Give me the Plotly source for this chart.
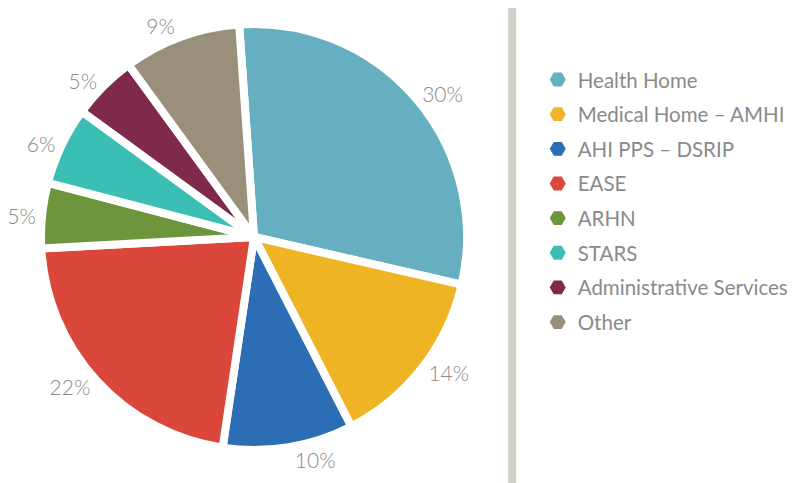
import plotly.graph_objects as go

# share of funding by program
labels = ["Health Home", "Medical Home – AMHI", "AHI PPS – DSRIP", "EASE",
          "ARHN", "STARS", "Administrative Services", "Other"]
values = [30, 14, 10, 22, 5, 6, 5, 9]
colors = ["#66afc0", "#efb423", "#2c6eb5", "#dc473b",
          "#6d963c", "#3bbfb5", "#7f2a4d", "#9a8f7a"]

FONT = "Lato"
GREY = "#8a8a8a"

fig = go.Figure()

fig.add_trace(go.Pie(
    labels=labels,
    values=values,
    sort=False,
    direction="clockwise",
    rotation=-4,
    marker=dict(colors=colors, line=dict(color="white", width=8)),
    textposition="outside",
    texttemplate="%{value}%",
    textfont=dict(family=FONT, size=21, color=GREY, weight=300),
    showlegend=False,
    hoverinfo="label+percent",
    domain=dict(x=[0.0413, 0.5745], y=[0.085, 0.967]),
))

# legend with hexagon markers (pie legend only does squares)
for i, (lab, col) in enumerate(zip(labels, colors)):
    fig.add_trace(go.Scatter(
        x=[None], y=[None], mode="markers", name=lab,
        marker=dict(symbol="hexagon2", size=20, color=col),
        legendgroup=str(i),
    ))

# divider between pie and legend
fig.add_shape(type="line", xref="paper", yref="paper",
              x0=0.631, x1=0.631, y0=-0.05, y1=1.05,
              line=dict(color="#d3cfc8", width=8))

fig.update_layout(
    width=799, height=483,
    margin=dict(l=0, r=0, t=0, b=0, autoexpand=False),
    paper_bgcolor="white", plot_bgcolor="white",
    xaxis=dict(visible=False), yaxis=dict(visible=False),
    legend=dict(x=0.663, y=0.893, xanchor="left", yanchor="top",
                font=dict(family=FONT, size=20.5, color=GREY, weight=400),
                tracegroupgap=5, itemsizing="trace"),
)

fig.write_html("out.html")
